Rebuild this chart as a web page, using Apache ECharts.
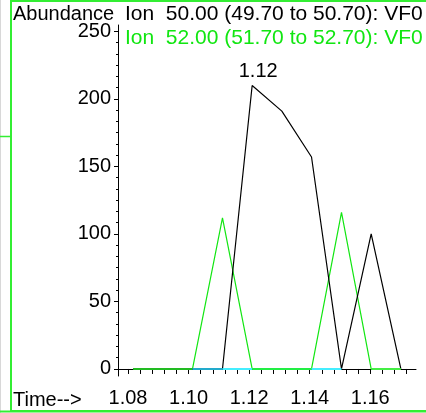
<!DOCTYPE html>
<html>
<head>
<meta charset="utf-8">
<script src="https://cdn.jsdelivr.net/npm/echarts@6/dist/echarts.min.js"></script>
<style>
  html, body { margin: 0; padding: 0; background: #fff; }
  #chart { width: 426px; height: 413px; }
</style>
</head>
<body>
<div id="chart"></div>
<script>
// retention times (min) of the scans
var times = [1.0817, 1.0915, 1.1013, 1.1112, 1.1210, 1.1308, 1.1406, 1.1505, 1.1603, 1.1701];
// ion 50.00 (black) and ion 52.00 (green) abundances
var ion50 = [0, 0, 0, 0, 210, 191, 157, 0, 100, 0];
var ion52 = [0, 0, 0, 112, 0, 0, 0, 116, 0, 0];
// baseline pieces at zero: [from index, to index, colour]
var baseParts = [[0, 2, '#22bb22'], [2, 3, '#22aacc'], [3, 4, '#44eeff'], [4, 6, '#22ee44'], [6, 7, '#44eeff'], [8, 9, '#44ee44']];

var xLabels = [1.08, 1.10, 1.12, 1.14, 1.16];
var xTicks = [1.080, 1.084, 1.088, 1.092, 1.096, 1.100, 1.104, 1.108, 1.112, 1.116, 1.120, 1.124,
              1.128, 1.132, 1.136, 1.140, 1.144, 1.148, 1.152, 1.156, 1.160, 1.164, 1.168, 1.172];
var yLabels = [0, 50, 100, 150, 200, 250];
var yMinor = [];
for (var k = 1; k <= 30; k++) { if (k % 6) yMinor.push(k * 50 / 6); }

var legendNames = ['Ion  50.00 (49.70 to 50.70): VF0', 'Ion  52.00 (51.70 to 52.70): VF0'];

var FONT = "'Liberation Sans', Arial, sans-serif";
var GREEN = '#11e611';
var chart = echarts.init(document.getElementById('chart'));

// label the biggest peak of ion 50 with its time
var peak = ion50.indexOf(Math.max.apply(null, ion50));

var series = [
  {
    type: 'line', data: times.map(function (t, i) { return [t, ion52[i]]; }),
    symbol: 'none', lineStyle: { color: GREEN, width: 1.2 }, z: 2, animation: false
  },
  {
    type: 'line', data: times.map(function (t, i) { return [t, ion50[i]]; }),
    symbol: 'none', lineStyle: { color: '#000', width: 1.2 }, z: 3, animation: false,
    markPoint: {
      symbol: 'circle', symbolSize: 1, itemStyle: { color: 'rgba(0,0,0,0)' },
      label: {
        show: true, position: 'top', distance: 3, offset: [6, 0],
        color: '#000', fontSize: 20, fontFamily: FONT,
        formatter: function () { return times[peak].toFixed(2); }
      },
      data: [{ coord: [times[peak], ion50[peak]] }]
    }
  }
];
baseParts.forEach(function (p) {
  series.push({
    type: 'line',
    data: times.slice(p[0], p[1] + 1).map(function (t) { return [t, 0]; }),
    symbol: 'none', lineStyle: { color: p[2], width: 2 }, z: 4, animation: false
  });
});

var option = {
  backgroundColor: '#fff',
  animation: false,
  grid: { left: 118, right: 10, top: 25, bottom: 37 },
  xAxis: {
    type: 'value', min: 1.0767, max: 1.1751,
    splitLine: { show: false },
    axisLine: { show: true, lineStyle: { color: '#000', width: 1 } },
    axisTick: { show: true, length: 5, customValues: xTicks, lineStyle: { color: '#000' } },
    axisLabel: {
      customValues: xLabels, margin: 12, color: '#000', fontSize: 20, fontFamily: FONT,
      formatter: function (v) { return v.toFixed(2); }
    }
  },
  yAxis: [
    {
      type: 'value', min: -5.2, max: 254.8,
      splitLine: { show: false },
      axisLine: { show: true, lineStyle: { color: '#000', width: 1 } },
      axisTick: { show: true, length: 4, customValues: yLabels, lineStyle: { color: '#000' } },
      axisLabel: { customValues: yLabels, margin: 7, color: '#000', fontSize: 20, fontFamily: FONT }
    },
    {
      type: 'value', min: -5.2, max: 254.8, position: 'left',
      splitLine: { show: false },
      axisLine: { show: false },
      axisTick: { show: true, length: 2, customValues: yMinor, lineStyle: { color: '#000' } },
      axisLabel: { show: false }
    }
  ],
  graphic: [
    { type: 'line', shape: { x1: 0.5, y1: 0, x2: 0.5, y2: 413 }, style: { stroke: '#d8d8d8', lineWidth: 1 } },
    { type: 'rect', shape: { x: 11, y: 1, width: 420, height: 410 }, style: { fill: 'none', stroke: '#33ee33', lineWidth: 2 } },
    { type: 'line', shape: { x1: 0, y1: 136.5, x2: 11, y2: 136.5 }, style: { stroke: '#33ee33', lineWidth: 1.5 } },
    { type: 'line', shape: { x1: 0, y1: 411.5, x2: 426, y2: 411.5 }, style: { stroke: '#33ee33', lineWidth: 2 } },
    { type: 'text', left: 13, top: 4, style: { text: 'Abundance', fill: '#000', font: '20px ' + FONT } },
    { type: 'text', left: 125, top: 4, style: { text: legendNames[0], fill: '#000', font: '21px ' + FONT } },
    { type: 'text', left: 125, top: 28, style: { text: legendNames[1], fill: GREEN, font: '21px ' + FONT } },
    { type: 'text', left: 13, top: 390, style: { text: 'Time-->', fill: '#000', font: '20px ' + FONT } }
  ],
  series: series
};
chart.setOption(option);
</script>
</body>
</html>
